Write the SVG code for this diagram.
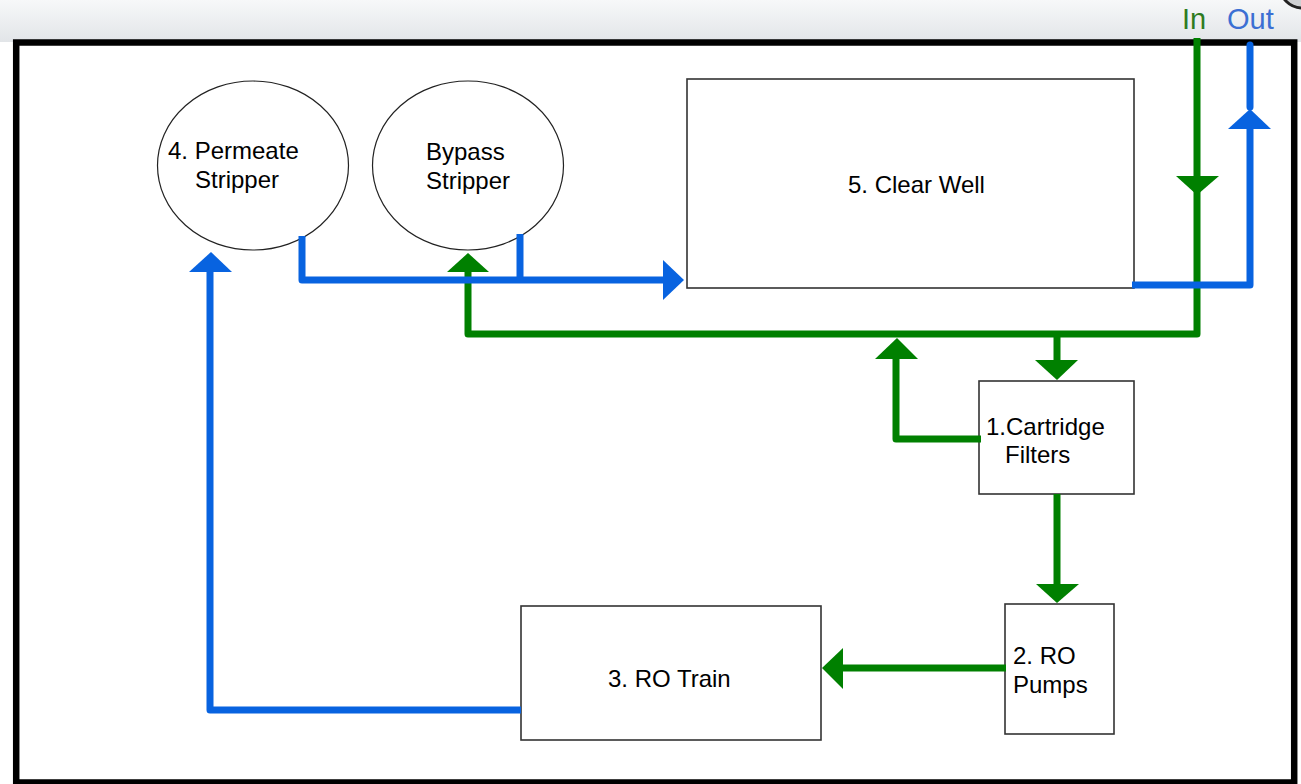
<svg xmlns="http://www.w3.org/2000/svg" width="1301" height="784" viewBox="0 0 1301 784">
<style>
.box{fill:#fff;stroke:#333;stroke-width:1.6}
.ell{fill:#fff;stroke:#222;stroke-width:1.2}
.lbl{font-family:"Liberation Sans",Arial,sans-serif;font-size:24px;fill:#000}
.g{fill:none;stroke:#008000;stroke-width:7;stroke-linejoin:round}
.b{fill:none;stroke:#0863e0;stroke-width:7;stroke-linejoin:round}
.ga{fill:#008000}
.ba{fill:#0863e0}
</style>
<defs>
<linearGradient id="bg" x1="0" y1="0" x2="0" y2="1">
<stop offset="0" stop-color="#f7f8f9"/>
<stop offset="1" stop-color="#e2e5e8"/>
</linearGradient>
</defs>
<rect x="0" y="0" width="1301" height="784" fill="#fff"/>
<rect x="0" y="0" width="1301" height="42" fill="url(#bg)"/>
<circle cx="1302" cy="-14" r="22" fill="#cfd1d3" stroke="#222" stroke-width="3"/>
<rect x="16.2" y="42.5" width="1278" height="740" fill="#fff" stroke="#000" stroke-width="6.5"/>
<text x="1182" y="29" font-family="Liberation Sans,Arial,sans-serif" font-size="29" fill="#2e7b1e">In</text>
<text x="1227" y="29" font-family="Liberation Sans,Arial,sans-serif" font-size="29" fill="#3b6fd3">Out</text>

<g id="permeate-stripper">
<ellipse class="ell" cx="253" cy="165.5" rx="95.5" ry="84.5"/>
<text class="lbl" x="168" y="159">4. Permeate</text>
<text class="lbl" x="195" y="188">Stripper</text>
</g>
<g id="bypass-stripper">
<ellipse class="ell" cx="468" cy="165.5" rx="95.5" ry="84.5"/>
<text class="lbl" x="426" y="160">Bypass</text>
<text class="lbl" x="426" y="189">Stripper</text>
</g>
<g id="clear-well">
<rect class="box" x="687" y="79" width="447" height="209"/>
<text class="lbl" x="848" y="193" font-size="25">5. Clear Well</text>
</g>
<g id="cartridge-filters">
<rect class="box" x="979" y="381" width="155" height="113"/>
<text class="lbl" x="986" y="435">1.Cartridge</text>
<text class="lbl" x="1005" y="463">Filters</text>
</g>
<g id="ro-pumps">
<rect class="box" x="1005" y="604" width="109" height="130"/>
<text class="lbl" x="1013" y="664">2. RO</text>
<text class="lbl" x="1013" y="693">Pumps</text>
</g>
<g id="ro-train">
<rect class="box" x="521" y="606" width="300" height="134"/>
<text class="lbl" x="608" y="687">3. RO Train</text>
</g>

<g id="connectors">
<path class="g" d="M1197,38 V334 H468 V272"/>
<polygon class="ga" points="1176,176 1219,176 1197,195"/>
<polygon class="ga" points="447,272 489,272 468,253"/>
<path class="g" d="M1057,334 V360"/>
<polygon class="ga" points="1035,360 1078,360 1057,380"/>
<path class="g" d="M981,439 H896 V359"/>
<polygon class="ga" points="875,359 918,359 897,338"/>
<path class="g" d="M1057,494 V584"/>
<polygon class="ga" points="1036,584 1079,584 1057,603"/>
<path class="g" d="M1006,668 H843"/>
<polygon class="ga" points="843,648 843,689 822,668"/>
<path class="b" d="M302,236 V280 H663"/>
<path class="b" d="M520,234 V280"/>
<polygon class="ba" points="663,260 663,300 684,280"/>
<path class="b" d="M521,710 H210 V272"/>
<polygon class="ba" points="189,272 232,272 211,252"/>
<path class="b" d="M1132,285 H1250 V129"/>
<path class="b" d="M1250,107 V45" stroke-linecap="round"/>
<polygon class="ba" points="1228,129 1271,129 1250,109"/>
</g>
</svg>
